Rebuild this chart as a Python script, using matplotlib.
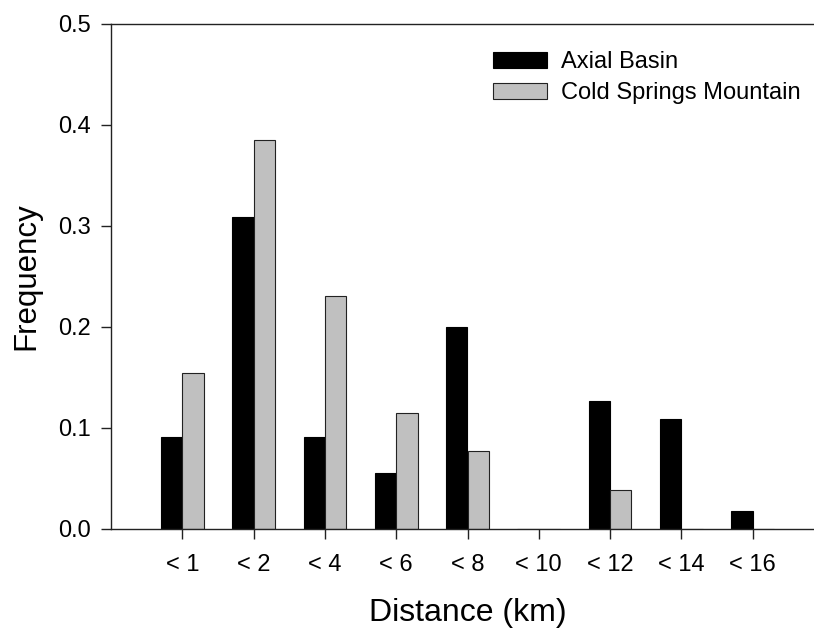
import matplotlib
matplotlib.use("Agg")
import numpy as np
import matplotlib.pyplot as plt

plt.rcParams["font.family"] = ["Liberation Sans", "DejaVu Sans"]

# distance classes (km) and relative frequency per study area
categories = ["< 1", "< 2", "< 4", "< 6", "< 8", "< 10", "< 12", "< 14", "< 16"]
axial_basin = [0.091, 0.309, 0.091, 0.055, 0.200, 0.0, 0.127, 0.109, 0.018]
cold_springs = [0.154, 0.385, 0.231, 0.115, 0.077, 0.0, 0.038, 0.0, 0.0]
y_ticks = [0.0, 0.1, 0.2, 0.3, 0.4, 0.5]

W, H = 814, 628
fig = plt.figure(figsize=(W / 100, H / 100), dpi=100)
ax = fig.add_axes([111 / W, (H - 528.7) / H, (824 - 111) / W, (528.7 - 24) / H])

x = np.arange(1, len(categories) + 1)
bw = 0.3
ax.bar(x - bw / 2, axial_basin, width=bw, color="black", edgecolor="black",
       linewidth=0.8, label="Axial Basin")
ax.bar(x + bw / 2, cold_springs, width=bw, color="#c0c0c0", edgecolor="#222222",
       linewidth=0.8, label="Cold Springs Mountain")

ax.set_xlim(0, 10)
ax.set_ylim(0, 0.5)
ax.set_xticks(x)
ax.set_xticklabels(categories)
ax.set_yticks(y_ticks)
ax.set_yticklabels([f"{v:.1f}" for v in y_ticks])

for side in ("left", "top", "bottom", "right"):
    ax.spines[side].set_linewidth(1.0)
    ax.spines[side].set_color("#222222")
ax.spines["right"].set_visible(False)

ax.tick_params(axis="both", direction="out", length=7, width=1.0,
               color="#222222", labelsize=17)
ax.tick_params(axis="x", pad=11)
ax.tick_params(axis="y", pad=7.5)

ax.set_xlabel("Distance (km)", fontsize=23, labelpad=16)
ax.set_ylabel("Frequency", fontsize=22.5, labelpad=12)

leg = ax.legend(loc="upper left", bbox_to_anchor=(493 / W, 1 - 51 / H),
                bbox_transform=fig.transFigure, frameon=False, fontsize=17,
                handlelength=2.3, handleheight=0.65, handletextpad=0.6,
                labelspacing=0.38, borderpad=0, borderaxespad=0)

fig.savefig("out.png", dpi=100)
